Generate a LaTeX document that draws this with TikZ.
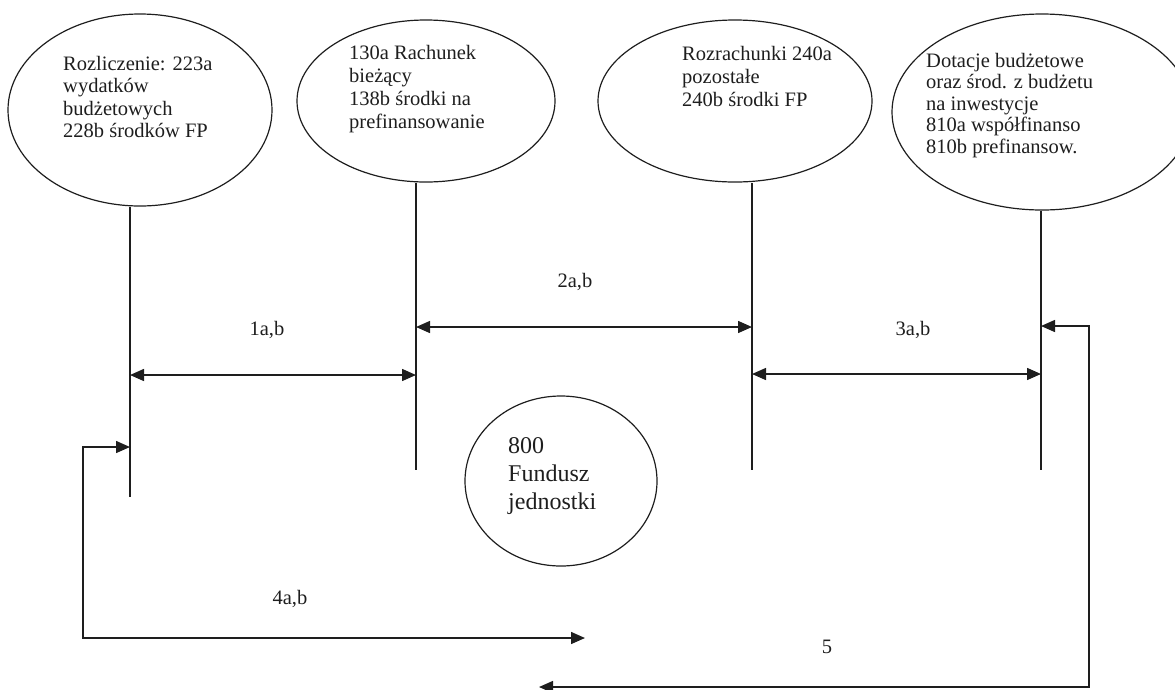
\documentclass[tikz,border=0pt]{standalone}
\usepackage{fontspec}
\setmainfont{Liberation Serif}
\usetikzlibrary{shapes.geometric,arrows.meta}
\definecolor{ink}{RGB}{30,30,30}
\begin{document}
\begin{tikzpicture}[x=1pt,y=-1pt,
  oval/.style={ellipse, draw=ink, line width=1.2pt, inner sep=0pt},
  ovaltext/.style={anchor=north west, inner sep=0pt, align=left, text=ink,
                   font=\fontsize{20.5}{22.5}\selectfont},
  lbl/.style={anchor=base, inner sep=0pt, text=ink, font=\fontsize{20.5}{22}\selectfont},
  stem/.style={draw=ink, line width=1.3pt},
  flow/.style={draw=ink, line width=1.5pt,
               {Triangle[length=14pt,width=12pt]}-{Triangle[length=14pt,width=12pt]}},
]
\useasboundingbox (0,0) rectangle (1175,689);

% account ovals
\node[oval, minimum width=264pt, minimum height=192pt] (E1) at (140,110) {};
\node[oval, minimum width=258pt, minimum height=162pt] (E2) at (426,101) {};
\node[oval, minimum width=274pt, minimum height=162pt] (E3) at (735,101) {};
\node[oval, minimum width=300pt, minimum height=196pt] (E4) at (1042,112) {};
\node[oval, minimum width=192pt, minimum height=170pt] (E5) at (561,481) {};

% oval captions
\node[ovaltext] (t1) at (63,55) {\rule{0pt}{15pt}Rozliczenie: 223a\\wydatków\\budżetowych\\228b środków FP};
\node[ovaltext, font=\fontsize{20.5}{23}\selectfont] (t2) at (349,44) {\rule{0pt}{15pt}130a Rachunek\\bieżący\\138b środki na\\prefinansowanie};
\node[ovaltext, font=\fontsize{20.5}{23}\selectfont] (t3) at (682,45) {\rule{0pt}{15pt}Rozrachunki 240a\\pozostałe\\240b środki FP};
\node[ovaltext, font=\fontsize{20.5}{21.5}\selectfont] (t4) at (926,52) {\rule{0pt}{15pt}Dotacje budżetowe\\oraz środ. z budżetu\\na inwestycje\\810a współfinanso\\810b prefinansow.};
\node[ovaltext, font=\fontsize{24}{28}\selectfont] (t5) at (508,436) {\rule{0pt}{17pt}800\\Fundusz\\jednostki};

% lower ends of the account stems
\coordinate (b1) at (130,497);
\coordinate (b2) at (416,470);
\coordinate (b3) at (752,470);
\coordinate (b4) at (1041,470);

\draw[stem] (E1.south -| b1) -- (b1);
\draw[stem] (E2.south -| b2) -- (b2);
\draw[stem] (E3.south -| b3) -- (b3);
\draw[stem] (E4.south -| b4) -- (b4);

% points where the flows meet the stems
\coordinate (p1) at (130,375);
\coordinate (q1) at (416,375);
\coordinate (p2) at (416,327);
\coordinate (q2) at (752,327);
\coordinate (p3) at (752,374);
\coordinate (q3) at (1041,374);
\coordinate (p4) at (130,447);
\coordinate (c4a) at (83,447);
\coordinate (e4) at (585,638);
\coordinate (p5) at (1041,326);
\coordinate (c5a) at (1089,326);
\coordinate (e5) at (539,687);

\draw[flow] (p1) -- (q1);
\draw[flow] (p2) -- (q2);
\draw[flow] (p3) -- (q3);
\draw[flow] (p4) -- (c4a) |- (e4);
\draw[flow] (p5) -- (c5a) |- (e5);

% flow labels
\node[lbl] (l1) at (267,335) {1a,b};
\node[lbl] (l2) at (575,287) {2a,b};
\node[lbl] (l3) at (913,335) {3a,b};
\node[lbl] (l4) at (290,604) {4a,b};
\node[lbl] (l5) at (827,653) {5};
\end{tikzpicture}
\end{document}
